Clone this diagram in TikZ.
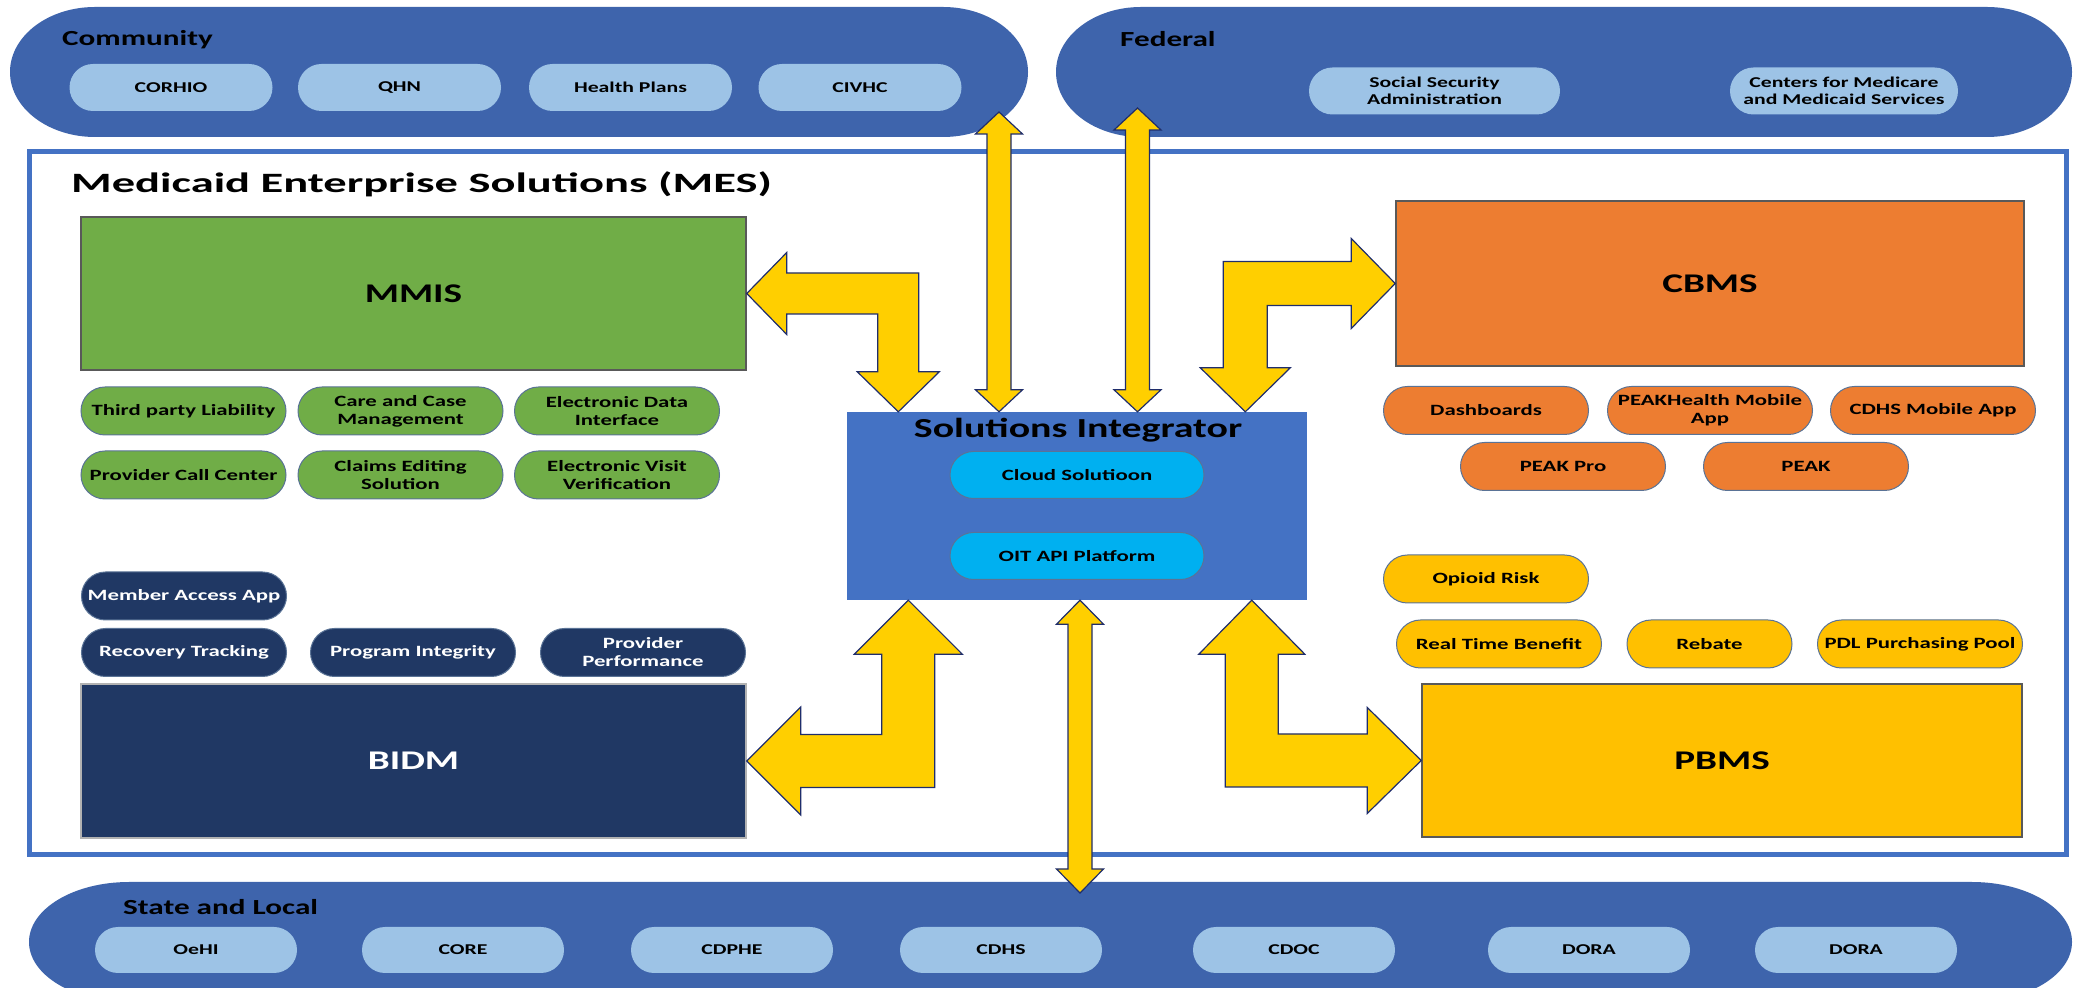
\documentclass[tikz,border=0pt]{standalone}
\usepackage{fontspec}
\setmainfont{Carlito}[FakeStretch=1.45]
\newfontfamily\titlefont{Carlito}[FakeStretch=1.66]
\usepackage{tikz}
\usetikzlibrary{calc}

\definecolor{groupblue}{HTML}{3E64AC}
\definecolor{pillblue}{HTML}{9DC3E6}
\definecolor{mesblue}{HTML}{4472C4}
\definecolor{mmisgreen}{HTML}{70AD47}
\definecolor{bidmnavy}{HTML}{203864}
\definecolor{cloudcyan}{HTML}{00B0F0}
\definecolor{cbmsorange}{HTML}{ED7D31}
\definecolor{pbmsgold}{HTML}{FFC000}
\definecolor{linkyellow}{HTML}{FFCF00}
\definecolor{linkedge}{HTML}{1F2D6B}
\definecolor{pilledge}{HTML}{5A7396}

\tikzset{
  system/.style={rectangle, draw=gray!70!black, line width=1.5pt, inner sep=0pt,
    font=\bfseries\fontsize{27}{30}\selectfont},
  pill/.style={rectangle, rounded corners=24pt, minimum width=205pt, minimum height=48pt,
    inner sep=0pt, align=center, draw=pilledge, line width=1pt,
    font=\bfseries\fontsize{15.7}{18}\selectfont},
  partner/.style={pill, draw=none, fill=pillblue, minimum width=203pt, minimum height=47pt,
    rounded corners=23.5pt, font=\bfseries\fontsize{15}{17.5}\selectfont},
  grouplabel/.style={anchor=west, inner sep=0pt, font=\bfseries\fontsize{21.5}{25}\selectfont},
  blockarrow/.style={fill=linkyellow, draw=linkedge, line width=1.2pt, line join=miter}
}

% straight two-way block arrow: top tip, bottom tip, half shaft, half head, head length
\newcommand{\vlink}[5]{%
  \draw[blockarrow] let \p1=(#1), \p2=(#2) in
    (\p1) -- (\x1+#4,\y1-#5) -- (\x1+#3,\y1-#5) -- (\x1+#3,\y2+#5) -- (\x1+#4,\y2+#5)
    -- (\x1,\y2) -- (\x1-#4,\y2+#5) -- (\x1-#3,\y2+#5) -- (\x1-#3,\y1-#5) -- (\x1-#4,\y1-#5) -- cycle;}

% bent two-way block arrow: side tip, end tip, x sign, y sign, half shaft, half head, head length
\newcommand{\bentlink}[7]{%
  \draw[blockarrow] let \p1=(#1), \p2=(#2) in
    (\p1) -- ({\x1+(#3)*#7},{\y1+(#4)*#6}) -- ({\x1+(#3)*#7},{\y1+(#4)*#5})
    -- ({\x2+(#3)*#5},{\y1+(#4)*#5}) -- ({\x2+(#3)*#5},{\y2+(#4)*#7}) -- ({\x2+(#3)*#6},{\y2+(#4)*#7})
    -- (\p2) -- ({\x2-(#3)*#6},{\y2+(#4)*#7}) -- ({\x2-(#3)*#5},{\y2+(#4)*#7})
    -- ({\x2-(#3)*#5},{\y1-(#4)*#5}) -- ({\x1+(#3)*#7},{\y1-(#4)*#5}) -- ({\x1+(#3)*#7},{\y1-(#4)*#6}) -- cycle;}

\begin{document}
\begin{tikzpicture}[x=1pt, y=1pt]
  \useasboundingbox (0,0) rectangle (2073,988);

  % outer groups
  \fill[groupblue] (95,851) -- (943,851) arc[start angle=-90, end angle=90, x radius=85, y radius=65]
    -- (95,981) arc[start angle=90, end angle=270, x radius=85, y radius=65] -- cycle;
  \fill[groupblue] (1141,851) -- (1987,851) arc[start angle=-90, end angle=90, x radius=85, y radius=65]
    -- (1141,981) arc[start angle=90, end angle=270, x radius=85, y radius=65] -- cycle;
  \fill[groupblue] (129,-14) -- (1972,-14) arc[start angle=-90, end angle=90, x radius=100, y radius=60]
    -- (129,106) arc[start angle=90, end angle=270, x radius=100, y radius=60] -- cycle;

  \node[grouplabel] (community) at (62,948) {Community};
  \node[partner] (corhio) at (171,900.5) {CORHIO};
  \node[partner] (qhn) at (399.5,900.5) {QHN};
  \node[partner] (plans) at (630.5,900.5) {Health Plans};
  \node[partner] (civhc) at (860,900.5) {CIVHC};

  \node[grouplabel] (federal) at (1120,949) {Federal};
  \node[partner, minimum width=251pt] (ssa) at (1434.5,897) {Social Security\\Administration};
  \node[partner, minimum width=228pt] (cms) at (1844,897) {Centers for Medicare\\and Medicaid Services};

  \node[grouplabel] (statelocal) at (123,81) {State and Local};
  \foreach \name/\x/\txt in {oehi/196/OeHI, core/463/CORE, cdphe/732/CDPHE, cdhs/1001/CDHS,
                             cdoc/1294/CDOC, dora/1589/DORA, doratwo/1856/DORA}
    \node[partner, minimum width=202pt, minimum height=46pt, rounded corners=23pt] (\name) at (\x,38) {\txt};

  % MES frame
  \draw[mesblue, line width=5pt] (29,133) rectangle (2066,836);
  \node[anchor=west, inner sep=0pt, font=\titlefont\bfseries\fontsize{28}{32}\selectfont] (mes) at (71,804)
    {Medicaid Enterprise Solutions (MES)};

  % MMIS
  \node[system, fill=mmisgreen, minimum width=665pt, minimum height=153pt] (mmis) at (413.5,694.5) {MMIS};
  \node[pill, fill=mmisgreen] (tpl) at (183.5,577) {Third party Liability};
  \node[pill, fill=mmisgreen] (ccm) at (400.5,577) {Care and Case\\Management};
  \node[pill, fill=mmisgreen] (edi) at (617,577) {Electronic Data\\Interface};
  \node[pill, fill=mmisgreen] (pcc) at (183.5,513) {Provider Call Center};
  \node[pill, fill=mmisgreen] (ces) at (400.5,513) {Claims Editing\\Solution};
  \node[pill, fill=mmisgreen] (evv) at (617,513) {Electronic Visit\\Verification};

  % BIDM
  \node[pill, fill=bidmnavy, text=white] (maa) at (184,392) {Member Access App};
  \node[pill, fill=bidmnavy, text=white] (rt) at (184,335.5) {Recovery Tracking};
  \node[pill, fill=bidmnavy, text=white] (pi) at (413,335.5) {Program Integrity};
  \node[pill, fill=bidmnavy, text=white] (pp) at (643,335.5) {Provider\\Performance};
  \node[system, fill=bidmnavy, draw=gray!60, text=white, minimum width=665pt, minimum height=154pt]
    (bidm) at (413.5,227) {BIDM};

  % Solutions Integrator
  \node[rectangle, fill=mesblue, minimum width=460pt, minimum height=188pt] (si) at (1077,482) {};
  \node[font=\bfseries\fontsize{27.5}{30}\selectfont, inner sep=0pt] (sititle) at (1078,558) {Solutions Integrator};
  \node[pill, fill=cloudcyan, minimum width=254pt, minimum height=47pt, rounded corners=23.5pt] (cloud)
    at (1077,513) {Cloud Solutioon};
  \node[pill, fill=cloudcyan, minimum width=254pt, minimum height=47pt, rounded corners=23.5pt] (oit)
    at (1077,432) {OIT API Platform};

  % CBMS
  \node[system, fill=cbmsorange, minimum width=628pt, minimum height=165pt] (cbms) at (1710,704.5) {CBMS};
  \node[pill, fill=cbmsorange] (dash) at (1486,577.5) {Dashboards};
  \node[pill, fill=cbmsorange] (peakhealth) at (1710,577.5) {PEAKHealth Mobile\\App};
  \node[pill, fill=cbmsorange] (cdhsapp) at (1933,577.5) {CDHS Mobile App};
  \node[pill, fill=cbmsorange] (peakpro) at (1563,521.5) {PEAK Pro};
  \node[pill, fill=cbmsorange] (peak) at (1806,521.5) {PEAK};

  % PBMS
  \node[pill, fill=pbmsgold] (opioid) at (1486,409) {Opioid Risk};
  \node[pill, fill=pbmsgold] (rtb) at (1499,344) {Real Time Benefit};
  \node[pill, fill=pbmsgold, minimum width=165pt] (rebate) at (1709.5,344) {Rebate};
  \node[pill, fill=pbmsgold] (pdl) at (1920,344) {PDL Purchasing Pool};
  \node[system, fill=pbmsgold, minimum width=600pt, minimum height=153pt] (pbms) at (1722,227.5) {PBMS};

  % links
  \coordinate (commtip) at (999,876);
  \coordinate (fedtip) at (1137.5,880);
  \coordinate (statetip) at (1080,95);
  \coordinate (commend) at (commtip |- si.north);
  \coordinate (fedend) at (fedtip |- si.north);
  \coordinate (stateend) at (statetip |- si.south);
  \coordinate (mmisdrop) at ($(si.north west)+(51.5,0)$);
  \coordinate (cbmsdrop) at ($(si.north west)+(398.5,0)$);
  \coordinate (bidmrise) at ($(si.south west)+(61.5,0)$);
  \coordinate (pbmsrise) at ($(si.south west)+(405,0)$);

  \vlink{commtip}{commend}{12pt}{23.5pt}{22pt}
  \vlink{fedtip}{fedend}{12pt}{23.5pt}{22pt}
  \vlink{stateend}{statetip}{12pt}{23.5pt}{24pt}
  \bentlink{mmis.east}{mmisdrop}{1}{1}{20.5pt}{41pt}{40pt}
  \bentlink{cbms.west}{cbmsdrop}{-1}{1}{22pt}{45pt}{44pt}
  \bentlink{bidm.east}{bidmrise}{1}{-1}{26.5pt}{54pt}{54pt}
  \bentlink{pbms.west}{pbmsrise}{-1}{-1}{26.5pt}{53pt}{54pt}
\end{tikzpicture}
\end{document}
